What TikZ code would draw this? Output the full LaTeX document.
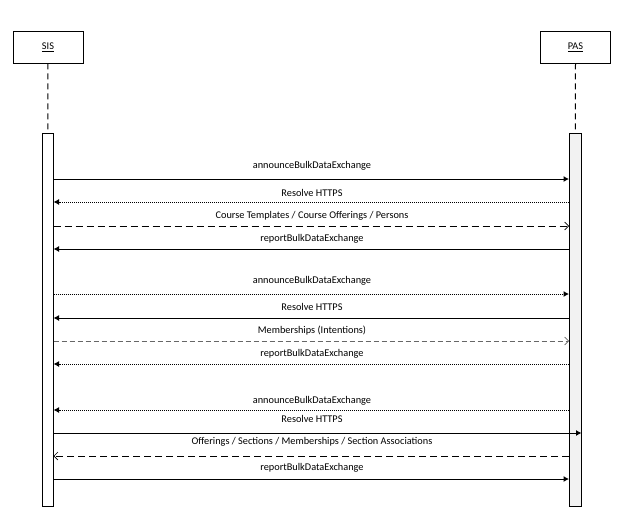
\documentclass[tikz,border=0pt]{standalone}
\usepackage{fontspec}
\setmainfont{Carlito}
\usetikzlibrary{arrows.meta}
\begin{document}
\begin{tikzpicture}[x=1pt,y=-1pt,
  every node/.style={font=\fontsize{10.3}{12}\selectfont, inner sep=0pt},
  actor/.style={draw, line width=0.8pt, minimum width=70pt, minimum height=32pt},
  bar/.style={draw, line width=1pt, minimum width=11.5pt, minimum height=373pt},
  life/.style={line width=1pt, dash pattern=on 6pt off 4pt},
  msg/.style={line width=1pt},
  filled/.style={-{Latex[length=5.5pt,width=6pt]}},
  openhead/.style={-{Straight Barb[length=4pt,width=8pt,line width=0.6pt]}},
  dotline/.style={dash pattern=on 1pt off 1pt},
  dashline/.style={dash pattern=on 7pt off 4pt},
  fdash/.style={draw=gray!80!black, dash pattern=on 5pt off 3pt},
  lbl/.style={anchor=center}]
\useasboundingbox (0,0) rectangle (624,509);

% actors
\node[actor] (sis) at (48,47) {\underline{SIS}};
\node[actor] (pas) at (575.5,47) {\underline{PAS}};

% activation bars
\node[bar, fill=white] (sisbar) at (47.75,319.5) {};
\node[bar, fill=gray!10] (pasbar) at (575.25,319.5) {};

% lifelines
\draw[life] (sis.south) -- (sisbar.north);
\draw[life] (pas.south) -- (pasbar.north);

% message end points
\foreach \i/\y in {1/179,2/202,3/226,4/249,5/294,6/318,7/341,8/364,9/410,10/433,11/456,12/479}{
  \coordinate (s\i) at (53.5,\y);
  \coordinate (p\i) at (569,\y);
}
\coordinate (q10) at (581.5,433);

% group 1
\draw[msg, filled] (s1) -- (p1);
\node[lbl] (l1) at (312,165.5) {announceBulkDataExchange};
\draw[msg, filled, dotline] (p2) -- (s2);
\node[lbl] (l2) at (312,193) {Resolve HTTPS};
\draw[msg, openhead, dashline] (s3) -- (p3);
\node[lbl] (l3) at (312,216) {Course Templates / Course Offerings / Persons};
\draw[msg, filled] (p4) -- (s4);
\node[lbl] (l4) at (312,239) {reportBulkDataExchange};

% group 2
\draw[msg, filled, dotline] (s5) -- (p5);
\node[lbl] (l5) at (312,281) {announceBulkDataExchange};
\draw[msg, filled] (p6) -- (s6);
\node[lbl] (l6) at (312,307) {Resolve HTTPS};
\draw[msg, openhead, fdash] (s7) -- (p7);
\node[lbl] (l7) at (312,331) {Memberships (Intentions)};
\draw[msg, filled, dotline] (p8) -- (s8);
\node[lbl] (l8) at (312,354) {reportBulkDataExchange};

% group 3
\draw[msg, filled, dotline] (p9) -- (s9);
\node[lbl] (l9) at (312,401) {announceBulkDataExchange};
\draw[msg, filled] (s10) -- (q10);
\node[lbl] (l10) at (312,419) {Resolve HTTPS};
\draw[msg, openhead, dashline] (p11) -- (s11);
\node[lbl] (l11) at (312,442) {Offerings / Sections / Memberships / Section Associations};
\draw[msg, filled] (s12) -- (p12);
\node[lbl] (l12) at (312,467.5) {reportBulkDataExchange};
\end{tikzpicture}
\end{document}
